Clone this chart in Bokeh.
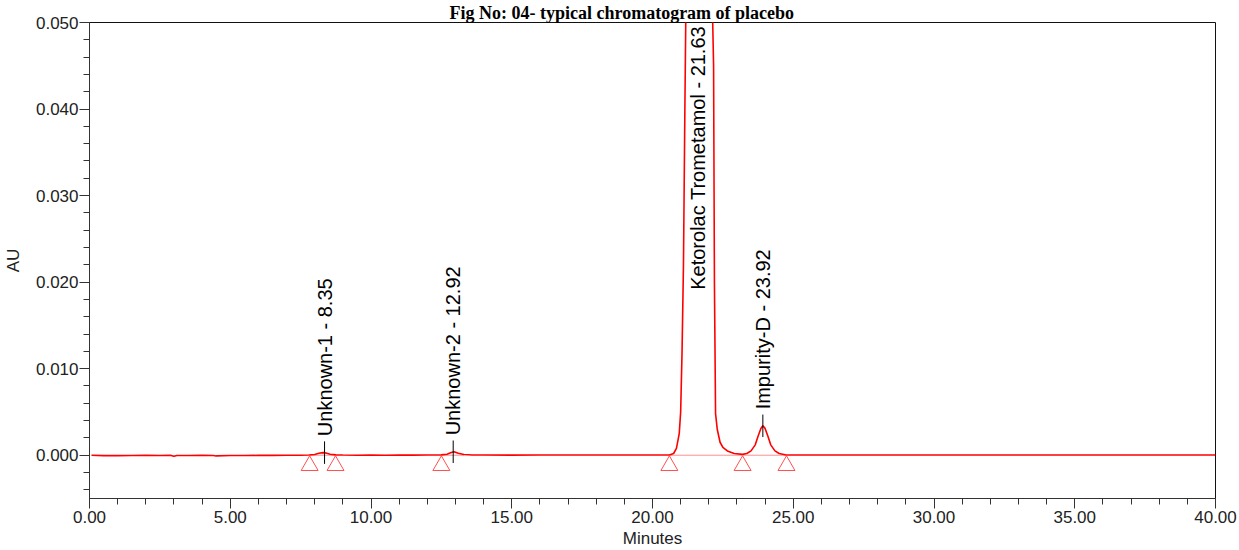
import math
from bokeh.plotting import figure
from bokeh.models import Range1d, FixedTicker, PrintfTickFormatter
from bokeh.embed import file_html
from bokeh.resources import INLINE
from bokeh.core.properties import value

# ---------------- data ----------------
time_min = [0.07, 0.5, 1.0, 1.5, 2.0, 2.5, 2.9, 3.0, 3.1, 3.5, 4.0, 4.4, 4.5, 5.0,
            5.5, 6.0, 6.5, 7.0, 7.5, 7.8, 8.0, 8.15, 8.3, 8.4, 8.55, 8.75, 9.0,
            9.5, 10.0, 10.5, 11.0, 11.5, 12.0, 12.5, 12.7, 12.85, 12.95, 13.1,
            13.3, 13.6, 14.0, 15.0, 16.0, 17.0, 18.0, 19.0, 20.0, 20.6, 20.75,
            20.85, 20.95, 21.0, 21.05, 21.1, 21.15, 21.2, 21.3, 21.63, 21.95,
            22.05, 22.12, 22.17, 22.2, 22.24, 22.3, 22.4, 22.5, 22.66, 22.9,
            23.2, 23.35, 23.5, 23.65, 23.75, 23.85, 23.92, 24.0, 24.1, 24.2,
            24.35, 24.5, 24.75, 25.0, 26.0, 28.0, 30.0, 32.0, 34.0, 36.0, 38.0, 40.0]
absorbance_au = [0.0000, -0.00005, -0.00005, -0.00003, -0.00002, -0.00004, -0.00002,
                 -0.00012, -0.00003, -0.00004, -0.00002, -0.00003, -0.00008, -0.00004,
                 -0.00003, -0.00002, -0.00002, -0.00001, 0.0000, 0.00002, 0.00008,
                 0.00022, 0.00030, 0.00026, 0.00012, 0.00004, 0.00002, 0.0000,
                 0.00001, 0.0000, 0.00002, 0.00001, 0.00002, 0.00004, 0.00012,
                 0.00032, 0.00040, 0.00022, 0.00008, 0.00003, 0.00002, 0.00001,
                 0.00002, 0.00002, 0.00003, 0.00002, 0.00003, 0.00003, 0.0002,
                 0.0008, 0.0025, 0.0050, 0.0120, 0.0220, 0.0400, 0.0560, 0.0750,
                 0.0950, 0.0750, 0.0600, 0.0530, 0.0450, 0.0200, 0.0048, 0.0030,
                 0.0015, 0.0009, 0.0005, 0.0002, 0.0001, 0.0002, 0.0005, 0.0012,
                 0.0022, 0.0031, 0.0034, 0.0031, 0.0022, 0.0012, 0.0005, 0.0002,
                 0.00003, 0.00002, 0.00003, 0.00003, 0.00002, 0.00003, 0.00002,
                 0.00003, 0.00002, 0.00002]

peak_names = ["Unknown-1", "Unknown-2", "Ketorolac Trometamol", "Impurity-D"]
peak_rt = [8.35, 12.92, 21.63, 23.92]
peak_apex = [0.0003, 0.0004, 0.095, 0.0034]

# integration start / end markers (retention time)
marker_rt = [7.82, 8.74, 12.5, 20.6, 23.2, 24.76]
integration_start = [7.82, 12.5, 20.6, 23.2]
integration_end = [8.74, 13.3, 23.2, 24.76]

x_ticks = [0, 5, 10, 15, 20, 25, 30, 35, 40]
y_ticks = [0.0, 0.01, 0.02, 0.03, 0.04, 0.05]
x_minor = [i * 1.0 for i in range(0, 41)]
y_minor = [round(-0.004 + i * 0.002, 3) for i in range(0, 28)]

title_text = "Fig No: 04- typical chromatogram of placebo"
x_label = "Minutes"
y_label = "AU"

X_MIN, X_MAX = 0.0, 40.0
Y_MIN, Y_MAX = -0.005, 0.050

# ---------------- figure ----------------
p = figure(width=1239, height=550, output_backend="svg", toolbar_location=None,
           x_range=Range1d(X_MIN, X_MAX), y_range=Range1d(Y_MIN, Y_MAX),
           min_border_left=89, min_border_right=24, min_border_top=0,
           min_border_bottom=52)
p.background_fill_color = "white"
p.border_fill_color = "white"
p.outline_line_color = "#111111"
p.outline_line_width = 1
p.xgrid.visible = False
p.ygrid.visible = False

# title squeezed into the narrow strip above the plot frame
p.title.text = title_text
p.title.align = "left"
p.title.offset = 360
p.title.standoff = 0
p.title.text_font = "Liberation Serif"
p.title.text_font_style = "bold"
p.title.text_font_size = "18px"
p.title.text_color = "black"
p.title.text_line_height = 0.95

for ax, ticks, minor, fmt, lab in (
        (p.xaxis[0], x_ticks, x_minor, "%.2f", x_label),
        (p.yaxis[0], y_ticks, y_minor, "%.3f", y_label)):
    ax.ticker = FixedTicker(ticks=ticks, minor_ticks=minor)
    ax.formatter = PrintfTickFormatter(format=fmt)
    ax.axis_label = lab
    ax.axis_line_color = "#333333"
    ax.major_tick_line_color = "#333333"
    ax.minor_tick_line_color = "#333333"
    ax.major_tick_in = 0
    ax.major_tick_out = 10
    ax.minor_tick_in = 0
    ax.minor_tick_out = 6
    ax.major_label_text_font = "Liberation Sans"
    ax.major_label_text_font_size = "17px"
    ax.major_label_text_color = "#222222"
    ax.axis_label_text_font = "Liberation Sans"
    ax.axis_label_text_font_size = "17px"
    ax.axis_label_text_font_style = "normal"
    ax.axis_label_text_color = "#222222"

p.xaxis.major_label_standoff = 2
p.xaxis.axis_label_standoff = 3
p.yaxis.major_label_standoff = 1
p.yaxis.axis_label_standoff = 10

# integration baselines
p.segment(x0=integration_start, y0=[0.0] * len(integration_start),
          x1=integration_end, y1=[0.0] * len(integration_end),
          line_color="#ff9090", line_width=1)

# chromatogram trace
p.line(time_min, absorbance_au, line_color="#ff0000", line_width=1.6)

# integration markers (open triangles below the baseline)
p.scatter(marker_rt, [-0.0012] * len(marker_rt), marker="triangle", size=17,
          fill_color=None, line_color="#ff5050", line_width=1)

# peak labels
tick_half = 0.0013
label_gap = 0.0019
low_x, low_y0, low_y1, low_txt, low_ty = [], [], [], [], []
top_x, top_txt = [], []
for name, rt, apex in zip(peak_names, peak_rt, peak_apex):
    txt = f"{name} - {rt:.2f}"
    if apex + label_gap < Y_MAX * 0.8:
        low_x.append(rt)
        low_y0.append(apex - tick_half)
        low_y1.append(apex + tick_half)
        low_txt.append(txt)
        low_ty.append(apex + label_gap)
    else:
        top_x.append(rt)
        top_txt.append(txt)

p.segment(x0=low_x, y0=low_y0, x1=low_x, y1=low_y1, line_color="black", line_width=1)
p.text(x=low_x, y=low_ty, text=low_txt, angle=math.pi / 2,
       text_align="left", text_baseline="middle",
       text_font=value("Liberation Sans"), text_font_size="20px", text_color="black")
p.text(x=top_x, y=[Y_MAX - 0.0004] * len(top_x), text=top_txt, angle=math.pi / 2,
       text_align="right", text_baseline="middle",
       text_font=value("Liberation Sans"), text_font_size="20px", text_color="black")

open("out.html", "w").write(file_html(p, INLINE))
